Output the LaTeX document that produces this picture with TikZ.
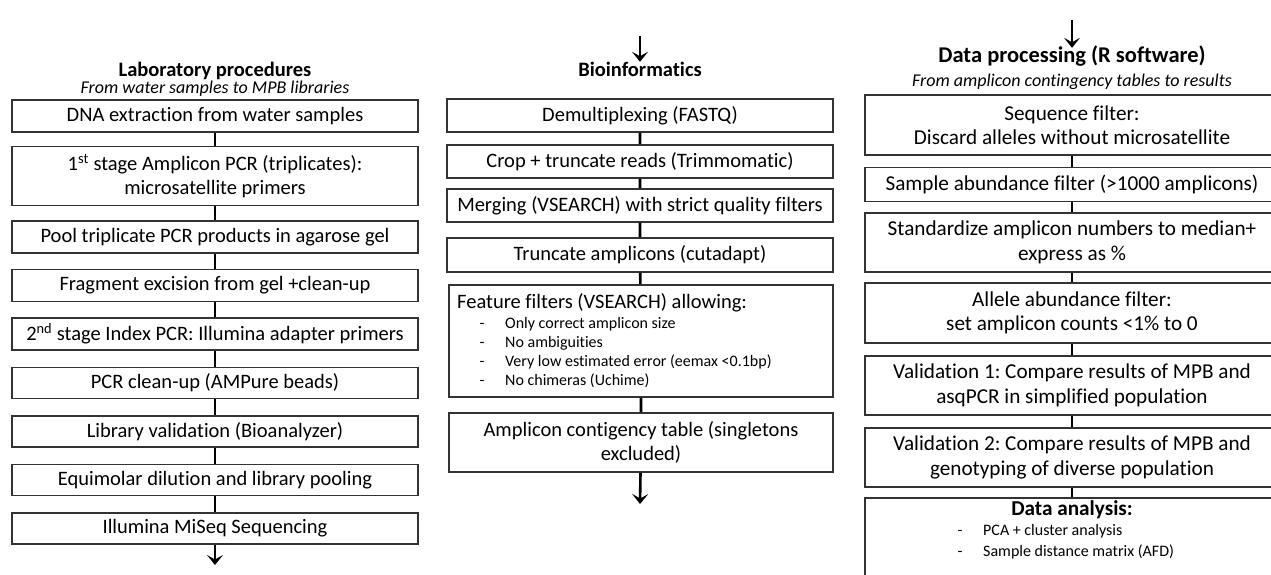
\documentclass[tikz,border=0pt]{standalone}
\usepackage{fontspec}
\setmainfont{Carlito}[Ligatures=NoCommon]
\usetikzlibrary{arrows.meta}
\definecolor{frame}{HTML}{333333}
\frenchspacing
\newcommand{\boxfont}{\fontsize{20.5}{24}\selectfont}
\newcommand{\rboxfont}{\fontsize{21.2}{24.5}\selectfont}
\newcommand{\rheadfont}{\fontsize{22.5}{26}\selectfont\bfseries}
\newcommand{\subfont}{\fontsize{18}{21}\selectfont\itshape}
\newcommand{\itemfont}{\fontsize{16}{19}\selectfont}

\begin{document}
\begin{tikzpicture}[x=1pt, y=-1pt,
    box/.style={rectangle, draw=frame, line width=1.6pt, align=center, inner sep=0pt, font=\boxfont},
    head/.style={font=\boxfont\bfseries, inner sep=0pt, text height=15pt, text depth=5pt},
    txt/.style={inner sep=0pt, text height=11pt, text depth=4pt},
    link/.style={line width=2.6pt},
    flow/.style={-{Stealth[length=10pt, width=16pt, inset=4.5pt]}, line width=2.6pt}]
  \useasboundingbox (0,0) rectangle (1271,575);
  \clip (0,0) rectangle (1271,575);

  % lab procedures
  \node[head] (l0) at (215,72) {Laboratory procedures};
  \node[font=\subfont, inner sep=0pt] (l0s) at (215,89) {From water samples to MPB libraries};
  \node[box, minimum width=406pt, minimum height=32pt] (l1) at (215,116) {DNA extraction from water samples};
  \node[box, minimum width=406pt, minimum height=59pt] (l2) at (215,176) {1\textsuperscript{st} stage Amplicon PCR (triplicates):\\ microsatellite primers};
  \node[box, minimum width=406pt, minimum height=32pt] (l3) at (215,237) {Pool triplicate PCR products in agarose gel};
  \node[box, minimum width=406pt, minimum height=32pt] (l4) at (215,285.5) {Fragment excision from gel +clean-up};
  \node[box, minimum width=406pt, minimum height=32pt] (l5) at (215,334) {2\textsuperscript{nd} stage Index PCR: Illumina adapter primers};
  \node[box, minimum width=406pt, minimum height=31pt] (l6) at (215,383) {PCR clean-up (AMPure beads)};
  \node[box, minimum width=406pt, minimum height=31pt] (l7) at (215,431.5) {Library validation (Bioanalyzer)};
  \node[box, minimum width=406pt, minimum height=31pt] (l8) at (215,480) {Equimolar dilution and library pooling};
  \node[box, minimum width=406pt, minimum height=31pt] (l9) at (215,528.5) {Illumina MiSeq Sequencing};
  \coordinate (l10) at (215,565);
  \draw[link] (l1) -- (l2) (l2) -- (l3) (l3) -- (l4) (l4) -- (l5) (l5) -- (l6) (l6) -- (l7) (l7) -- (l8) (l8) -- (l9);
  \draw[flow] (l9) -- (l10);

  % bioinformatics
  \coordinate (b00) at (640,36);
  \node[head] (b0) at (640,72) {Bioinformatics};
  \node[box, minimum width=386pt, minimum height=33pt] (b1) at (640,115.5) {Demultiplexing (FASTQ)};
  \node[box, minimum width=386pt, minimum height=33pt] (b2) at (640,161.5) {Crop + truncate reads (Trimmomatic)};
  \node[box, minimum width=386pt, minimum height=33pt] (b3) at (640,205.5) {Merging (VSEARCH) with strict quality filters};
  \node[box, minimum width=386pt, minimum height=34pt] (b4) at (640,255) {Truncate amplicons (cutadapt)};
  \node[box, minimum width=384pt, minimum height=112pt] (b5) at (641,341) {};
  \node[txt, font=\boxfont, anchor=west, text height=15pt, text depth=5pt] (b5t) at (457,303) {Feature filters (VSEARCH) allowing:};
  \node[txt, font=\itemfont] at (482,325) {-};
  \node[txt, font=\itemfont, anchor=west] (b5a) at (505,325) {Only correct amplicon size};
  \node[txt, font=\itemfont] at (482,344) {-};
  \node[txt, font=\itemfont, anchor=west] (b5b) at (505,344) {No ambiguities};
  \node[txt, font=\itemfont] at (482,363) {-};
  \node[txt, font=\itemfont, anchor=west] (b5c) at (505,363) {Very low estimated error (eemax <0.1bp)};
  \node[txt, font=\itemfont] at (482,382) {-};
  \node[txt, font=\itemfont, anchor=west] (b5d) at (505,382) {No chimeras (Uchime)};
  \node[box, minimum width=384pt, minimum height=59pt] (b6) at (641,442.5) {Amplicon contigency table (singletons\\ excluded)};
  \coordinate (b7) at (640,504);
  \draw[flow] (b00) -- (b0);
  \draw[link] (b1) -- (b2) (b2) -- (b3) (b3) -- (b4) (b4) -- (b5) (b5) -- (b6);
  \draw[flow] (b6) -- (b7);

  % data processing
  \coordinate (r00) at (1072,20);
  \node[head, font=\rheadfont] (r0) at (1072,58) {Data processing (R software)};
  \node[font=\subfont, inner sep=0pt] (r0s) at (1072,82) {From amplicon contingency tables to results};
  \node[box, font=\rboxfont, minimum width=414pt, minimum height=60pt] (r1) at (1072,125) {Sequence filter:\\ Discard alleles without microsatellite};
  \node[box, font=\rboxfont, minimum width=414pt, minimum height=34pt] (r2) at (1072,184.5) {Sample abundance filter (>1000 amplicons)};
  \node[box, font=\rboxfont, minimum width=414pt, minimum height=59pt] (r3) at (1072,242.5) {Standardize amplicon numbers to median+\\ express as \%};
  \node[box, font=\rboxfont, minimum width=414pt, minimum height=60pt] (r4) at (1072,313) {Allele abundance filter:\\ set amplicon counts <1\% to 0};
  \node[box, font=\rboxfont, minimum width=414pt, minimum height=59pt] (r5) at (1072,385.5) {Validation 1: Compare results of MPB and\\ asqPCR in simplified population};
  \node[box, font=\rboxfont, minimum width=414pt, minimum height=59pt] (r6) at (1072,457.5) {Validation 2: Compare results of MPB and\\ genotyping of diverse population};
  \node[box, minimum width=414pt, minimum height=124pt] (r7) at (1072,560) {};
  \node[head, font=\rboxfont\bfseries] (r7t) at (1072,510) {Data analysis:};
  \node[txt, font=\itemfont] at (960,532) {-};
  \node[txt, font=\itemfont, anchor=west] (r7a) at (983,532) {PCA + cluster analysis};
  \node[txt, font=\itemfont] at (960,553) {-};
  \node[txt, font=\itemfont, anchor=west] (r7b) at (983,553) {Sample distance matrix (AFD)};
  \draw[flow] (r00) -- (r0);
  \draw[link] (r1) -- (r2) (r2) -- (r3) (r3) -- (r4) (r4) -- (r5) (r5) -- (r6) (r6) -- (r7);
\end{tikzpicture}
\end{document}
